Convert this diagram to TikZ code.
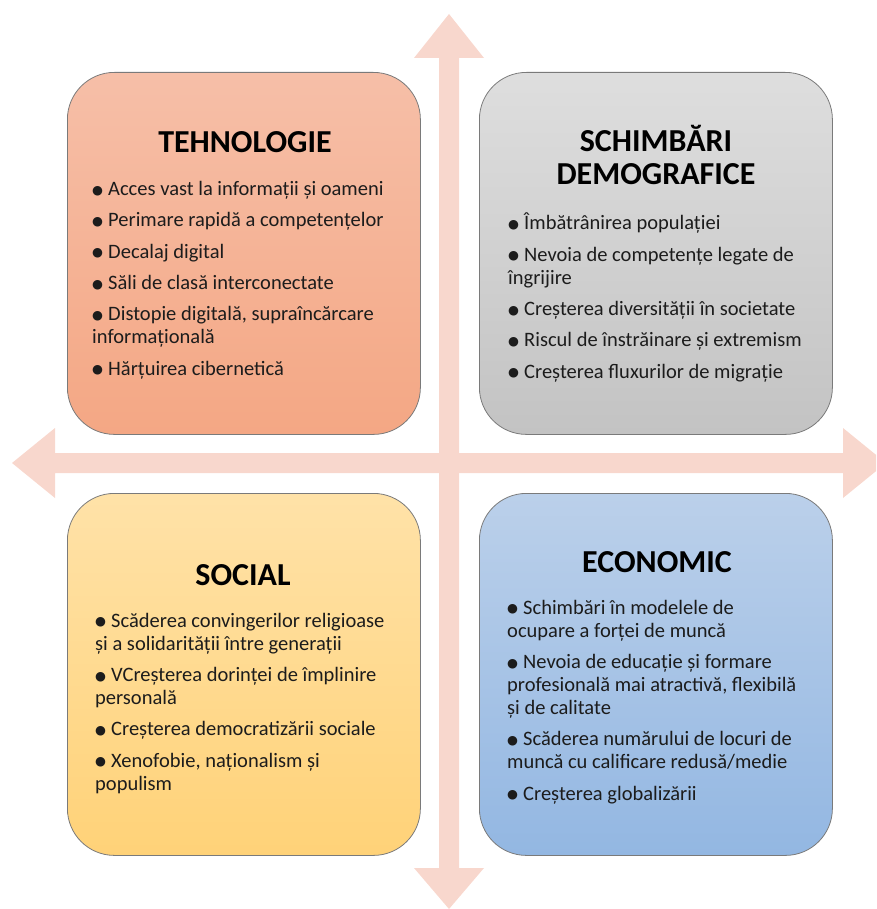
\documentclass[tikz,border=0pt]{standalone}
\usepackage{fontspec}
\setmainfont{Carlito}
\newfontfamily\symfont{DejaVu Sans}

\definecolor{axisfill}{HTML}{F8D7CD}
\definecolor{panelline}{HTML}{7A7A7A}
\definecolor{techtop}{HTML}{F6BFA8}
\definecolor{techbot}{HTML}{F4A784}
\definecolor{demotop}{HTML}{DEDEDE}
\definecolor{demobot}{HTML}{C3C3C3}
\definecolor{soctop}{HTML}{FFE2A8}
\definecolor{socbot}{HTML}{FFD278}
\definecolor{ecotop}{HTML}{BBD0EA}
\definecolor{ecobot}{HTML}{93B7E2}
\definecolor{bodytext}{HTML}{1C1C1C}

\newcommand\itm{\makebox[16pt][l]{\raisebox{1.2pt}{\symfont\fontsize{12.5}{12.5}\selectfont ●}}}
\newcommand\gap{\\[8.3pt]}

\tikzset{
  panel/.style={rectangle, rounded corners=47pt, draw=panelline, line width=0.8pt,
    minimum width=353pt, minimum height=362pt, anchor=north west, inner sep=0pt},
  % multi-line nodes are placed by the baseline of their last line
  heading/.style={font=\fontsize{32}{33}\selectfont\bfseries, anchor=base,
    align=center, inner sep=0pt, text=black},
  items/.style={font=\fontsize{20.5}{23}\selectfont, anchor=base west,
    align=left, inner sep=0pt, text=bodytext},
  axis/.style={fill=axisfill, draw=none},
}

\begin{document}
\begin{tikzpicture}[x=1pt, y=-1pt]
  \useasboundingbox (0,0) rectangle (876,909);
  \clip (0,0) rectangle (876,909);

  % vertical double arrow
  \fill[axis] (439,58) -- (414,58) -- (449,14) -- (484,58) -- (459,58)
              -- (459,868) -- (484,868) -- (449,909) -- (414,868) -- (439,868) -- cycle;
  % horizontal double arrow
  \fill[axis] (55,453) -- (55,428) -- (12,463) -- (55,498) -- (55,473)
              -- (843,473) -- (843,498) -- (886,463) -- (843,428) -- (843,453) -- cycle;

  % the four panels
  \node[panel, top color=techtop, bottom color=techbot] (tech) at (67,72) {};
  \node[panel, top color=demotop, bottom color=demobot] (demo) at (479,72) {};
  \node[panel, top color=soctop, bottom color=socbot] (soc) at (67,493) {};
  \node[panel, top color=ecotop, bottom color=ecobot] (eco) at (479,493) {};

  % TEHNOLOGIE
  \node[heading] (techtitle) at (245,153) {TEHNOLOGIE};
  \node[items] (techlist) at (92,375) {%
    \itm Acces vast la informații și oameni\gap
    \itm Perimare rapidă a competențelor\gap
    \itm Decalaj digital\gap
    \itm Săli de clasă interconectate\gap
    \itm Distopie digitală, supraîncărcare\\
    informațională\gap
    \itm Hărțuirea cibernetică};

  % SCHIMBARI DEMOGRAFICE
  \node[heading] (demotitle) at (656,185) {SCHIMBĂRI\\DEMOGRAFICE};
  \node[items] (demolist) at (508,378) {%
    \itm Îmbătrânirea populației\gap
    \itm Nevoia de competențe legate de\\
    îngrijire\gap
    \itm Creșterea diversității în societate\gap
    \itm Riscul de înstrăinare și extremism\gap
    \itm Creșterea fluxurilor de migrație};

  % SOCIAL
  \node[heading] (soctitle) at (243,585) {SOCIAL};
  \node[items] (soclist) at (95,790) {%
    \itm Scăderea convingerilor religioase\\
    și a solidarității între generații\gap
    \itm VCreșterea dorinței de împlinire\\
    personală\gap
    \itm Creșterea democratizării sociale\gap
    \itm Xenofobie, naționalism și\\
    populism};

  % ECONOMIC
  \node[heading] (ecotitle) at (657,572) {ECONOMIC};
  \node[items] (ecolist) at (507,800) {%
    \itm Schimbări în modelele de\\
    ocupare a forței de muncă\gap
    \itm Nevoia de educație și formare\\
    profesională mai atractivă, flexibilă\\
    și de calitate\gap
    \itm Scăderea numărului de locuri de\\
    muncă cu calificare redusă/medie\gap
    \itm Creșterea globalizării};
\end{tikzpicture}
\end{document}
